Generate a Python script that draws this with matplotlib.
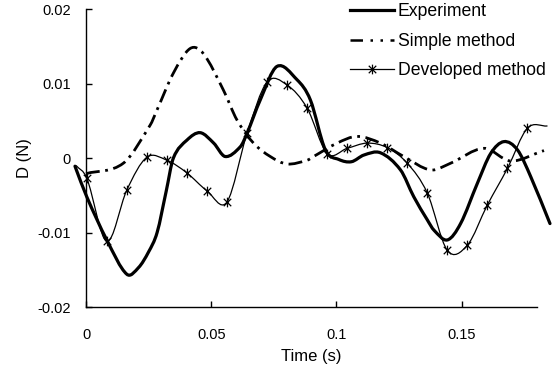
import numpy as np
import matplotlib
matplotlib.use("Agg")
import matplotlib.pyplot as plt
from matplotlib.path import Path
from matplotlib.patches import PathPatch
from matplotlib.lines import Line2D

plt.rcParams['font.family'] = ['Liberation Sans', 'DejaVu Sans']

# measured drag force
t_exp = [-0.0044, 0.0003, 0.0083, 0.0163, 0.0210, 0.0250, 0.0284, 0.0320, 0.0349,
         0.0403, 0.0456, 0.0510, 0.0556, 0.0616, 0.0643, 0.0696, 0.0763, 0.0843,
         0.0896, 0.0956, 0.1010, 0.1060, 0.1110, 0.1176, 0.1256, 0.1309, 0.1363,
         0.1390, 0.1443, 0.1496, 0.1563, 0.1616, 0.1669, 0.1723, 0.1776, 0.1853]
d_exp = [-0.0011, -0.0052, -0.0110, -0.0156, -0.0147, -0.0126, -0.0100, -0.0045, 0.0000,
         0.0024, 0.0034, 0.0020, 0.0002, 0.0015, 0.0033, 0.0078, 0.0123, 0.0105,
         0.0078, 0.0011, -0.0002, -0.0005, 0.0004, 0.0007, -0.0016, -0.0052, -0.0083,
         -0.0097, -0.0110, -0.0088, -0.0034, 0.0006, 0.0022, 0.0011, -0.0025, -0.0088]

# simple method
t_simp = [0.0000, 0.0149, 0.0256, 0.0283, 0.0349, 0.0416, 0.0469, 0.0549, 0.0603,
          0.0669, 0.0736, 0.0803, 0.0883, 0.0909, 0.1003, 0.1083, 0.1176, 0.1269,
          0.1376, 0.1456, 0.1589, 0.1696, 0.1829]
d_simp = [-0.0021, -0.0007, 0.0044, 0.0064, 0.0114, 0.0147, 0.0140, 0.0091, 0.0051,
          0.0020, 0.0002, -0.0008, -0.0003, 0.0002, 0.0020, 0.0029, 0.0020, 0.0002,
          -0.0016, -0.0007, 0.0013, -0.0004, 0.0010]

# developed method (markers on every computed step)
t_dev = [-0.0040, 0.0003, 0.0083, 0.0163, 0.0243, 0.0323, 0.0403, 0.0483, 0.0563,
         0.0643, 0.0723, 0.0803, 0.0883, 0.0963, 0.1043, 0.1123, 0.1203, 0.1283,
         0.1363, 0.1443, 0.1523, 0.1603, 0.1683, 0.1763, 0.1843]
d_dev = [-0.0010, -0.0027, -0.0112, -0.0043, 0.0001, -0.0003, -0.0020, -0.0044, -0.0059,
         0.0033, 0.0102, 0.0098, 0.0067, 0.0006, 0.0013, 0.0020, 0.0014, -0.0007,
         -0.0047, -0.0124, -0.0117, -0.0063, -0.0014, 0.0040, 0.0043]


def smooth_path(x, y):
    # cubic Bezier through the points, Hermite tangents from neighbours
    x = np.asarray(x, float)
    y = np.asarray(y, float)
    n = len(x)
    m = np.zeros(n)
    m[1:-1] = (y[2:] - y[:-2]) / (x[2:] - x[:-2])
    m[0] = (y[1] - y[0]) / (x[1] - x[0])
    m[-1] = (y[-1] - y[-2]) / (x[-1] - x[-2])
    verts = [(x[0], y[0])]
    codes = [Path.MOVETO]
    for i in range(n - 1):
        h = x[i + 1] - x[i]
        verts += [(x[i] + h / 3, y[i] + m[i] * h / 3),
                  (x[i + 1] - h / 3, y[i + 1] - m[i + 1] * h / 3),
                  (x[i + 1], y[i + 1])]
        codes += [Path.CURVE4] * 3
    return Path(verts, codes)


star = Path([(-1, -1), (1, 1), (-1, 1), (1, -1), (0, -1.3), (0, 1.3)],
            [Path.MOVETO, Path.LINETO] * 3)

fig = plt.figure(figsize=(5.52, 3.71), dpi=100)
ax = fig.add_axes([0.1558, 0.1725, 0.8165, 0.8032])

dash_simple = (0, (5, 2, 1, 2))

ax.add_patch(PathPatch(smooth_path(t_exp, d_exp), fill=False, lw=2.3,
                       ec='black', clip_on=False, capstyle='round'))
ax.add_patch(PathPatch(smooth_path(t_simp, d_simp), fill=False, lw=2.0,
                       ec='black', ls=dash_simple, clip_on=False))
ax.add_patch(PathPatch(smooth_path(t_dev, d_dev), fill=False, lw=0.9,
                       ec='black', clip_on=False))
ax.plot(t_dev[1:-1], d_dev[1:-1], ls='none', marker=star, ms=7, mew=0.9,
        color='black', clip_on=False)

ax.set_xlim(0, 0.18)
ax.set_ylim(-0.02, 0.02)
ax.set_xticks([0, 0.05, 0.1, 0.15])
ax.set_xticklabels(['0', '0.05', '0.1', '0.15'])
ax.set_yticks([-0.02, -0.01, 0, 0.01, 0.02])
ax.set_yticklabels(['-0.02', '-0.01', '0', '0.01', '0.02'])
ax.spines['top'].set_visible(False)
ax.spines['right'].set_visible(False)
for s in ('left', 'bottom'):
    ax.spines[s].set_linewidth(1.0)
ax.tick_params(direction='in', length=4, width=1.0, labelsize=10.5)
ax.tick_params(axis='x', pad=15)
ax.tick_params(axis='y', pad=11)
ax.set_xlabel('Time (s)', fontsize=12, labelpad=5)
ax.set_ylabel('D (N)', fontsize=12, labelpad=4)

handles = [Line2D([], [], color='black', lw=2.3),
           Line2D([], [], color='black', lw=1.8, ls=(0, (5, 3, 1, 3, 1, 3))),
           Line2D([], [], color='black', lw=0.9, marker=star, ms=7, mew=0.9)]
fig.legend(handles, ['Experiment', 'Simple method', 'Developed method'],
           loc='upper left', bbox_to_anchor=(350 / 552, 1 - 3 / 371), frameon=False,
           fontsize=12.7, handlelength=2.5, handletextpad=0.2, labelspacing=0.72,
           borderpad=0.0, borderaxespad=0.0)

fig.savefig('out.png', dpi=100)
